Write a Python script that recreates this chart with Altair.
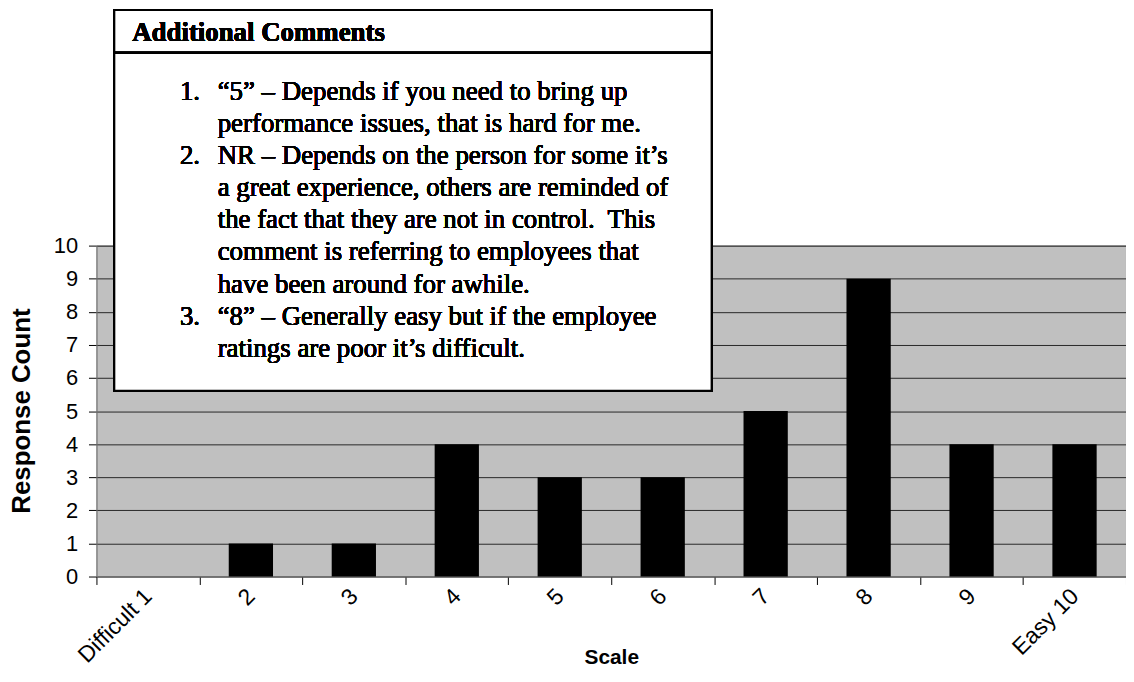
import altair as alt
import pandas as pd

categories = ["Difficult 1", "2", "3", "4", "5", "6", "7", "8", "9", "Easy 10"]
counts = [0, 1, 1, 4, 3, 3, 5, 9, 4, 4]
y_ticks = list(range(0, 11))

box_title = "Additional Comments"
item_numbers = ["1.", "2.", "3."]
item_first_line = [0, 2, 7]
comment_lines = [
    "\u201c5\u201d \u2013 Depends if you need to bring up",
    "performance issues, that is hard for me.",
    "NR \u2013 Depends on the person for some it\u2019s",
    "a great experience, others are reminded of",
    "the fact that they are not in control.\u00a0 This",
    "comment is referring to employees that",
    "have been around for awhile.",
    "\u201c8\u201d \u2013 Generally easy but if the employee",
    "ratings are poor it\u2019s difficult.",
]

df = pd.DataFrame({"Scale": categories, "Count": counts})

SANS = "Liberation Sans"
SERIF = "Liberation Serif"
LINE_H = 32.4
TEXT_TOP = -168

bars = alt.Chart(df).mark_bar(
    color="#000000", width=alt.RelativeBandSize(0.43)
).encode(
    x=alt.X(
        "Scale:N", sort=categories,
        scale=alt.Scale(paddingInner=0, paddingOuter=0),
        axis=alt.Axis(
            title="Scale", labelAngle=-45, labelAlign="right", labelBaseline="middle",
            labelFont=SANS, labelFontSize=23, labelColor="#000", labelPadding=8,
            tickBand="extent", tickSize=8, tickColor="#000", domainColor="#808080",
            titleFont=SANS, titleFontSize=21, titleFontWeight="bold", titleColor="#000",
            titleY=82, titleBaseline="middle", grid=False,
        ),
    ),
    y=alt.Y(
        "Count:Q", scale=alt.Scale(domain=[0, 10], nice=False),
        axis=alt.Axis(
            title="Response Count", values=y_ticks, format="d",
            labelFont=SANS, labelFontSize=22, labelColor="#000", labelPadding=11,
            tickSize=8, tickColor="#000", domainColor="#808080",
            gridColor="#000000", gridWidth=1, gridOpacity=0.8,
            titleFont=SANS, titleFontSize=26, titleFontWeight="bold", titleColor="#000",
            titleX=-75, titleY=166, titleAngle=-90, titleAlign="center", titleBaseline="middle",
        ),
    ),
)

box = alt.Chart(df).mark_rect(
    fill="white", stroke="black", strokeWidth=2
).encode(
    x=alt.value(18), x2=alt.value(619), y=alt.value(-237), y2=alt.value(146)
)

divider = alt.Chart(df).mark_rule(color="black", strokeWidth=2).encode(
    x=alt.value(18), x2=alt.value(619), y=alt.value(-194)
)

header = alt.Chart(df).mark_text(
    font=SERIF, fontSize=27, fontWeight="bold", align="left", baseline="middle", color="black"
).encode(x=alt.value(36), y=alt.value(-214), text=alt.value(box_title))

number_layers = [
    alt.Chart(df).mark_text(
        font=SERIF, fontSize=27, align="left", baseline="top", color="black"
    ).encode(x=alt.value(84), y=alt.value(TEXT_TOP + idx * LINE_H), text=alt.value(num))
    for num, idx in zip(item_numbers, item_first_line)
]

body = alt.Chart(df).mark_text(
    font=SERIF, fontSize=27, align="left", baseline="top", color="black", lineHeight=LINE_H
).encode(x=alt.value(122), y=alt.value(TEXT_TOP), text=alt.value(comment_lines))

chart = alt.layer(bars, box, divider, header, *number_layers, body).properties(
    width=1036, height=333,
    autosize=alt.AutoSizeParams(type="none"),
    padding={"left": 89, "top": 237, "right": 0, "bottom": 96},
).configure_view(
    fill="#C0C0C0", stroke="#808080", strokeWidth=1
)

chart.save("out.html", embed_options={"renderer": "svg", "actions": False})
